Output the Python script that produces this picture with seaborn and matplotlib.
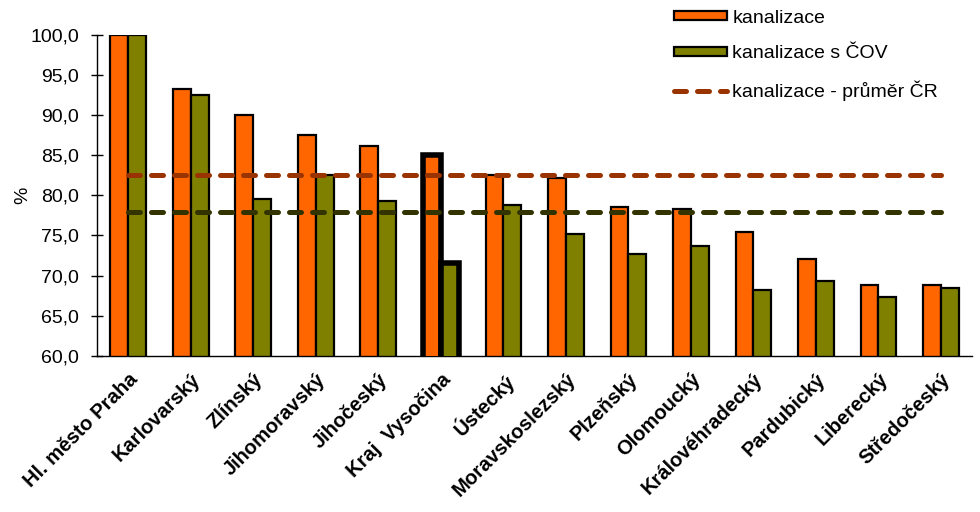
import matplotlib
matplotlib.use("Agg")
import matplotlib.pyplot as plt
import matplotlib.ticker as mticker
from matplotlib.patches import Patch
from matplotlib.lines import Line2D
import seaborn as sns
import pandas as pd

# data
kraje = ["Hl. město Praha", "Karlovarský", "Zlínský", "Jihomoravský", "Jihočeský",
         "Kraj  Vysočina", "Ústecký", "Moravskoslezský", "Plzeňský", "Olomoucký",
         "Královéhradecký", "Pardubický", "Liberecký", "Středočeský"]
kanalizace = [100.0, 93.3, 90.0, 87.5, 86.2, 85.0, 82.5, 82.1, 78.5, 78.3, 75.4, 72.1, 68.8, 68.8]
kanalizace_cov = [100.0, 92.5, 79.6, 82.5, 79.3, 71.6, 78.8, 75.2, 72.7, 73.7, 68.2, 69.3, 67.3, 68.5]
prumer_kanalizace = 82.5
prumer_cov = 77.9
zvyrazneny = "Kraj  Vysočina"

serie = ["kanalizace", "kanalizace s ČOV"]
barvy = ["#FF6600", "#808000"]

df = pd.DataFrame({
    "kraj": kraje * 2,
    "hodnota": kanalizace + kanalizace_cov,
    "serie": [serie[0]] * len(kraje) + [serie[1]] * len(kraje),
})

sns.set_style("white")
plt.rcParams["font.family"] = ["Liberation Sans", "DejaVu Sans"]
plt.rcParams["text.color"] = "black"
plt.rcParams["axes.labelcolor"] = "black"
plt.rcParams["xtick.color"] = "black"
plt.rcParams["ytick.color"] = "black"

fig = plt.figure(figsize=(9.8, 5.12), dpi=100)
ax = fig.add_axes([0.099, 0.305, 0.893, 0.627])

sns.barplot(data=df, x="kraj", y="hodnota", hue="serie", palette=barvy,
            width=0.57, gap=0, edgecolor="black", linewidth=1.6,
            saturation=1, legend=False, ax=ax)

# thicker outline for the highlighted region
idx = kraje.index(zvyrazneny)
bars = [p for p in ax.patches if p.get_height() > 0]
for k in range(2):
    p = bars[k * len(kraje) + idx]
    p.set_linewidth(4)
    p.set_zorder(3)

# average lines
styl = dict(linewidth=3.6, linestyle=(0, (2.4, 2.2)), dash_capstyle="round", zorder=4)
ax.plot([kraje[0], kraje[-1]], [prumer_kanalizace] * 2, color="#993300", **styl)
ax.plot([kraje[0], kraje[-1]], [prumer_cov] * 2, color="#333300", **styl)

ax.set_ylim(60, 100)
ax.set_xlim(-0.5, len(kraje) - 0.5)
ax.yaxis.set_major_locator(mticker.MultipleLocator(5))
ax.yaxis.set_major_formatter(mticker.FuncFormatter(lambda v, _: f"{v:.1f}".replace(".", ",")))
ax.set_ylabel("%", fontsize=14, labelpad=-1)
ax.set_xlabel("")

ax.set_xticks(range(len(kraje)))
ax.set_xticklabels(kraje, rotation=45, ha="right", rotation_mode="anchor",
                   fontsize=14.5, fontweight="bold")
ax.xaxis.set_minor_locator(mticker.FixedLocator([i - 0.5 for i in range(len(kraje) + 1)]))
ax.tick_params(axis="x", which="major", length=0, pad=10)
ax.tick_params(axis="x", which="minor", direction="inout", length=10, width=1, color="black")
ax.tick_params(axis="y", direction="inout", length=8, width=1, color="black",
               labelsize=14, left=True, pad=9)

for s in ["top", "right"]:
    ax.spines[s].set_visible(False)
for s in ["left", "bottom"]:
    ax.spines[s].set_color("black")
    ax.spines[s].set_linewidth(1)

handles = [
    Patch(facecolor=barvy[0], edgecolor="black", linewidth=1.6),
    Patch(facecolor=barvy[1], edgecolor="black", linewidth=1.6),
    Line2D([0], [0], color="#993300", **styl),
]
fig.legend(handles, [serie[0], serie[1], "kanalizace - průměr ČR"],
           loc="upper left", bbox_to_anchor=(0.67, 1.015), frameon=False,
           fontsize=14, handlelength=2.7, handleheight=0.35, handletextpad=0.3,
           labelspacing=0.95)

fig.savefig("out.png", dpi=100)
